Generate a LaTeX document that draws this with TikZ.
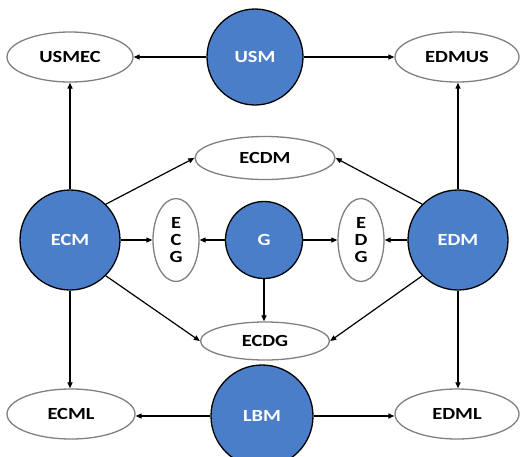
\documentclass[tikz,border=0pt]{standalone}
\usepackage{fontspec}
\setmainfont{Carlito}[FakeStretch=1.2]
\usetikzlibrary{shapes.geometric,arrows.meta}
\definecolor{hubblue}{RGB}{74,126,200}
\definecolor{rimgray}{RGB}{128,128,128}
\tikzset{
  hub/.style={circle, draw=black, line width=1.3pt, fill=hubblue, text=white,
    inner sep=0pt, minimum size=#1, font=\fontsize{17}{17}\selectfont\bfseries},
  hub/.default=100pt,
  leaf/.style={ellipse, draw=rimgray, line width=1.3pt, fill=white, inner sep=0pt,
    align=center, font=\fontsize{17}{17}\selectfont\bfseries},
  link/.style={line width=1.2pt, -{Triangle[length=6pt,width=5pt]}}
}
\begin{document}
\begin{tikzpicture}[x=1pt, y=-1pt]
    \useasboundingbox (0,0) rectangle (520,456);
    % models (blue circles)
    \node[hub=96pt]  (USM) at (255,57)  {USM};
    \node[hub]       (ECM) at (70,240)  {ECM};
    \node[hub=77pt]  (G)   at (264,240) {G};
    \node[hub]       (EDM) at (458,240) {EDM};
    \node[hub=102pt] (LBM) at (262,416) {LBM};
    % results (ellipses)
    \node[leaf, minimum width=126pt, minimum height=50pt] (USMEC) at (70,57)  {USMEC};
    \node[leaf, minimum width=124pt, minimum height=50pt] (EDMUS) at (457,57) {EDMUS};
    \node[leaf, minimum width=140pt, minimum height=43pt] (ECDM)  at (265,158) {ECDM};
    \node[leaf, minimum width=46pt,  minimum height=83pt] (ECG)   at (176,240) {E\\C\\G};
    \node[leaf, minimum width=46pt,  minimum height=83pt] (EDG)   at (361,240) {E\\D\\G};
    \node[leaf, minimum width=129pt, minimum height=38pt] (ECDG)  at (265,341) {ECDG};
    \node[leaf, minimum width=128pt, minimum height=50pt] (ECML)  at (71,414)  {ECML};
    \node[leaf, minimum width=124pt, minimum height=50pt] (EDML)  at (457,414) {EDML};
    % arrows
    \draw[link] (USM) -- (USMEC);
    \draw[link] (USM) -- (EDMUS);
    \draw[link] (ECM.north) -- (USMEC.south);
    \draw[link] (EDM.north) -- (EDM.north |- EDMUS.south);
    \draw[link] (ECM.45) -- (ECDM.west);
    \draw[link] (EDM.135) -- (ECDM.east);
    \draw[link] (ECM) -- (ECG);
    \draw[link] (G) -- (ECG);
    \draw[link] (G) -- (EDG);
    \draw[link] (EDM) -- (EDG);
    \draw[link] (G.south) -- (G.south |- ECDG.north);
    \draw[link] (ECM.-45) -- (ECDG.west);
    \draw[link] (EDM.-135) -- (ECDG.east);
    \draw[link] (ECM.south) -- (ECM.south |- ECML.north);
    \draw[link] (EDM.south) -- (EDM.south |- EDML.north);
    \draw[link] (LBM.west) -- (LBM.west -| ECML.east);
    \draw[link] (LBM.east) -- (LBM.east -| EDML.west);
\end{tikzpicture}
\end{document}
